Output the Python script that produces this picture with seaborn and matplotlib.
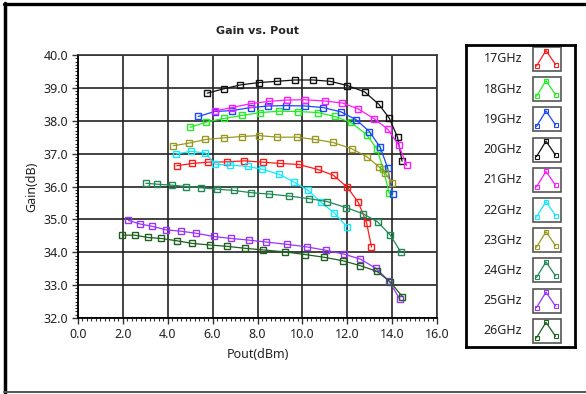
import numpy as np
import pandas as pd
import matplotlib
matplotlib.use("Agg")
import matplotlib.pyplot as plt
from matplotlib.lines import Line2D
from matplotlib.patches import Rectangle
from matplotlib.ticker import MultipleLocator, FormatStrFormatter
import seaborn as sns

# ------------------------------------------------------------
# Datos: Gain (dB) vs Pout (dBm) para cada frecuencia
# ------------------------------------------------------------
pout_17 = [4.4, 5.08, 5.81, 6.64, 7.41, 8.24, 9.02, 9.84, 10.68, 11.39, 12.01, 12.49, 12.86, 13.08]
gain_17 = [36.63, 36.70, 36.74, 36.75, 36.78, 36.74, 36.70, 36.67, 36.52, 36.34, 35.97, 35.52, 34.90, 34.16]

pout_18 = [5.0, 5.72, 6.5, 7.3, 8.13, 8.98, 9.81, 10.68, 11.45, 12.16, 12.86, 13.32, 13.61, 13.87]
gain_18 = [37.80, 37.96, 38.07, 38.16, 38.25, 38.29, 38.28, 38.25, 38.13, 37.95, 37.58, 37.14, 36.52, 35.79]

pout_19 = [5.36, 6.09, 6.87, 7.69, 8.49, 9.29, 10.1, 10.93, 11.72, 12.4, 12.99, 13.47, 13.8, 14.02]
gain_19 = [38.13, 38.28, 38.31, 38.40, 38.45, 38.46, 38.45, 38.40, 38.27, 38.03, 37.67, 37.19, 36.57, 35.76]

pout_20 = [5.76, 6.49, 7.23, 8.05, 8.87, 9.66, 10.46, 11.24, 12.01, 12.77, 13.41, 13.88, 14.24, 14.44]
gain_20 = [38.84, 38.97, 39.09, 39.16, 39.20, 39.24, 39.24, 39.20, 39.07, 38.88, 38.50, 38.07, 37.50, 36.77]

pout_21 = [6.09, 6.86, 7.69, 8.5, 9.3, 10.1, 10.99, 11.78, 12.49, 13.2, 13.81, 14.3, 14.65]
gain_21 = [38.30, 38.40, 38.52, 38.59, 38.63, 38.64, 38.60, 38.54, 38.36, 38.06, 37.74, 37.25, 36.64]

pout_22 = [4.37, 5.04, 5.68, 6.1, 6.79, 7.57, 8.22, 8.98, 9.61, 10.24, 10.83, 11.42, 11.98]
gain_22 = [36.99, 37.07, 37.02, 36.68, 36.65, 36.61, 36.52, 36.37, 36.14, 35.89, 35.52, 35.20, 34.78]

pout_23 = [4.25, 4.95, 5.68, 6.5, 7.29, 8.05, 8.89, 9.75, 10.58, 11.36, 12.19, 12.86, 13.41, 13.69, 13.98]
gain_23 = [37.24, 37.32, 37.43, 37.48, 37.52, 37.55, 37.50, 37.50, 37.43, 37.34, 37.15, 36.91, 36.60, 36.42, 36.11]

pout_24 = [3.02, 3.52, 4.19, 4.81, 5.5, 6.18, 6.95, 7.73, 8.52, 9.39, 10.3, 11.11, 11.94, 12.71, 13.36, 13.92, 14.39]
gain_24 = [36.10, 36.07, 36.04, 36.00, 35.96, 35.92, 35.88, 35.81, 35.77, 35.71, 35.63, 35.54, 35.36, 35.17, 34.92, 34.52, 34.00]

pout_25 = [2.25, 2.76, 3.3, 3.94, 4.59, 5.24, 6.04, 6.83, 7.6, 8.39, 9.32, 10.22, 11.05, 11.87, 12.59, 13.28, 13.87, 14.34]
gain_25 = [34.97, 34.86, 34.79, 34.68, 34.64, 34.58, 34.48, 34.42, 34.37, 34.31, 34.24, 34.16, 34.06, 33.94, 33.79, 33.51, 33.12, 32.58]

pout_26 = [1.97, 2.52, 3.11, 3.7, 4.4, 5.08, 5.87, 6.64, 7.45, 8.26, 9.24, 10.12, 10.95, 11.81, 12.59, 13.32, 13.91, 14.46]
gain_26 = [34.52, 34.52, 34.45, 34.42, 34.35, 34.27, 34.22, 34.18, 34.12, 34.07, 34.01, 33.93, 33.85, 33.74, 33.59, 33.42, 33.10, 32.65]

etiquetas = ['17GHz', '18GHz', '19GHz', '20GHz', '21GHz',
             '22GHz', '23GHz', '24GHz', '25GHz', '26GHz']
colores = ['#ff1a1a', '#22ee22', '#1f44ff', '#111111', '#ff1aff',
           '#14e8ff', '#999922', '#228855', '#9933ff', '#1e601e']

series = [(pout_17, gain_17), (pout_18, gain_18), (pout_19, gain_19),
          (pout_20, gain_20), (pout_21, gain_21), (pout_22, gain_22),
          (pout_23, gain_23), (pout_24, gain_24), (pout_25, gain_25),
          (pout_26, gain_26)]

df = pd.concat([pd.DataFrame({'Pout': p, 'Gain': g, 'Freq': lab})
                for (p, g), lab in zip(series, etiquetas)], ignore_index=True)

# ------------------------------------------------------------
# Figura
# ------------------------------------------------------------
sns.set_style('white')
plt.rcParams['font.family'] = ['Noto Sans', 'DejaVu Sans']

W, H = 586, 394
fig = plt.figure(figsize=(W / 100, H / 100), dpi=100)
ax = fig.add_axes([78 / W, 1 - 318 / H, (437 - 78) / W, (318 - 55) / H])

for lab, col in zip(etiquetas, colores):
    sub = df[df['Freq'] == lab]
    sns.lineplot(data=sub, x='Pout', y='Gain', color=col, marker='s',
                 markersize=4.5, markerfacecolor='none', markeredgecolor=col,
                 markeredgewidth=1.0, linewidth=0.9, sort=False,
                 legend=False, ax=ax, zorder=3)

ax.set_xlim(0, 16)
ax.set_ylim(32, 40)
ax.xaxis.set_major_locator(MultipleLocator(2))
ax.xaxis.set_minor_locator(MultipleLocator(0.2))
ax.yaxis.set_major_locator(MultipleLocator(1))
ax.yaxis.set_minor_locator(MultipleLocator(0.1))
ax.xaxis.set_major_formatter(FormatStrFormatter('%.1f'))
ax.yaxis.set_major_formatter(FormatStrFormatter('%.1f'))
ax.grid(True, which='major', color='#222222', linewidth=1.2, zorder=1)
ax.tick_params(which='major', direction='out', length=4, width=1,
               color='#333333', labelsize=9, labelcolor='#222222', pad=3)
ax.tick_params(which='minor', direction='out', length=2.5, width=0.8,
               color='#333333')
ax.tick_params(axis='x', which='both', bottom=True)
ax.tick_params(axis='y', which='both', left=True)
for s in ['left', 'bottom']:
    ax.spines[s].set_color('#000000')
    ax.spines[s].set_linewidth(1.3)
for s in ['top', 'right']:
    ax.spines[s].set_color('#333333')
    ax.spines[s].set_linewidth(1.2)

ax.set_xlabel('Pout(dBm)', fontsize=9, color='#222222', labelpad=5)
ax.set_ylabel('Gain(dB)', fontsize=9, color='#222222', labelpad=4)
ax.set_title('Gain vs. Pout', fontsize=8, fontweight='bold',
             family=['DejaVu Sans'], pad=15)

# ------------------------------------------------------------
# Leyenda tipo panel (etiqueta + icono)
# ------------------------------------------------------------
lx0, lx1, ly0, ly1 = 466, 575, 45, 347
lax = fig.add_axes([lx0 / W, 1 - ly1 / H, (lx1 - lx0) / W, (ly1 - ly0) / H])
lax.set_xlim(0, lx1 - lx0)
lax.set_ylim(ly1 - ly0, 0)
lax.set_xticks([])
lax.set_yticks([])
for s in lax.spines.values():
    s.set_color('#000000')
    s.set_linewidth(2.0)

for i, (lab, col) in enumerate(zip(etiquetas, colores)):
    yc = 14 + 30.2 * i
    lax.text(56, yc, lab, ha='right', va='center', fontsize=9, color='#222222')
    lax.add_patch(Rectangle((67, yc - 12), 28, 24, facecolor='white',
                            edgecolor='#555555', linewidth=1.2))
    lax.plot([70.5, 80, 89.5], [yc + 7, yc - 8.5, yc + 5.5], color=col,
             linewidth=0.9, marker='s', markersize=2.5, markerfacecolor='none',
             markeredgecolor=col, markeredgewidth=0.8)

# Marco exterior
fig.add_artist(Line2D([5 / W, 5 / W], [1 - 393 / H, 1 - 3 / H], color='black',
                      linewidth=2.5, transform=fig.transFigure))
fig.add_artist(Line2D([4 / W, 1.0], [1 - 4.3 / H, 1 - 4.3 / H], color='black',
                      linewidth=2.4, transform=fig.transFigure))
fig.add_artist(Line2D([4 / W, 1.0], [1 - 392 / H, 1 - 392 / H], color='#555555',
                      linewidth=1.4, transform=fig.transFigure))

fig.savefig('out.png', dpi=100)
plt.close(fig)
